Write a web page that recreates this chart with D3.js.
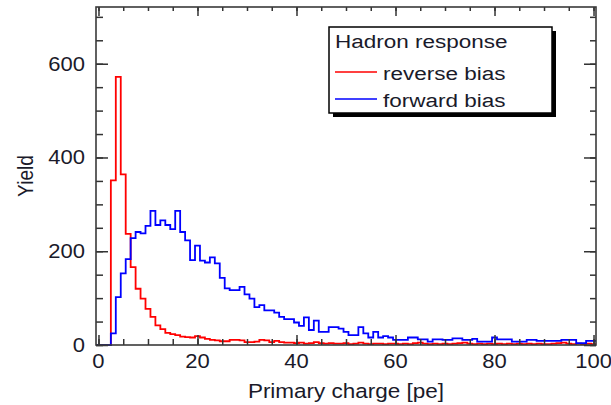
<!DOCTYPE html>
<html>
<head>
<meta charset="utf-8">
<script src="https://cdn.jsdelivr.net/npm/d3@7"></script>
<style>
  html, body { margin: 0; padding: 0; background: #fff; }
  svg { display: block; }
  text { font-family: "Liberation Sans", Arial, Helvetica, sans-serif; fill: #1a1a2a; }
</style>
</head>
<body>
<svg id="chart" width="611" height="405"></svg>
<script>
// Bin centres 0..100 (bin width 1 pe)
const binCenters = d3.range(0, 101);
const reverseBias = [
  0, 0, 0, 351, 572, 364, 237, 166, 120, 99,
  77, 60, 42, 34, 26, 23, 21, 18, 17, 16,
  19, 16, 13, 11, 10, 8, 8, 11, 11, 10,
  6, 6, 7, 11, 10, 6, 9, 6, 5, 5,
  4, 5, 3, 4, 6, 4, 3, 4, 3, 3,
  4, 2, 3, 5, 3, 2, 3, 3, 2, 3,
  3, 2, 3, 2, 4, 5, 3, 2, 3, 2,
  3, 2, 3, 4, 5, 3, 2, 3, 2, 3,
  2, 3, 2, 3, 2, 3, 2, 3, 2, 3,
  2, 2, 3, 4, 5, 3, 2, 3, 2, 3,
  2
];
const forwardBias = [
  0, 0, 0, 25, 102, 153, 183, 228, 241, 238,
  254, 286, 256, 266, 256, 247, 286, 241, 223, 181,
  212, 180, 176, 187, 174, 143, 121, 117, 117, 124,
  108, 99, 81, 85, 74, 74, 69, 60, 55, 55,
  48, 41, 59, 32, 52, 28, 28, 38, 38, 35,
  28, 21, 21, 38, 25, 16, 28, 16, 19, 16,
  11, 11, 11, 16, 16, 12, 12, 7, 12, 12,
  11, 11, 14, 14, 11, 11, 13, 7, 7, 7,
  16, 12, 12, 12, 7, 7, 7, 11, 11, 9,
  9, 9, 9, 9, 11, 11, 11, 4, 4, 9,
  9
];
const xTickLabels = [0, 20, 40, 60, 80, 100];
const yTickLabels = [0, 200, 400, 600];
const legendTitle = "Hadron response";
const seriesNames = ["reverse bias", "forward bias"];
const seriesColors = ["#ff0000", "#0000ff"];
const xTitle = "Primary charge [pe]";
const yTitle = "Yield";

const svg = d3.select("#chart");
const L = 96, R = 596, T = 7, B = 345;

const x = d3.scaleLinear().domain([-0.5, 100.5]).range([L, R]);
const y = d3.scaleLinear().domain([0, 721]).range([B, T]);

// Histograms (step outlines)
const line = d3.line().x(d => x(d[0])).y(d => y(d[1])).curve(d3.curveStepAfter);
function histPoints(vals) {
  const pts = binCenters.map((c, i) => [c - 0.5, vals[i]]);
  pts.push([100.5, vals[vals.length - 1]]);
  return pts;
}
const plot = svg.append("g");
[reverseBias, forwardBias].forEach((vals, k) => {
  plot.append("path")
    .attr("d", line(histPoints(vals)))
    .attr("fill", "none")
    .attr("stroke", seriesColors[k])
    .attr("stroke-width", 1.8)
    .attr("stroke-linejoin", "miter");
});

// Axes ticks (inward)
function drawAxis(axis, tx, ty) {
  const g = svg.append("g").attr("transform", `translate(${tx},${ty})`).call(axis);
  g.select(".domain").remove();
  g.selectAll("line").attr("stroke", "#333").attr("stroke-width", 1.5);
  g.selectAll("text").remove();
}
const xMinor = d3.range(0, 101, 5);
const xMajor = d3.range(0, 101, 20);
const yMinor = d3.range(0, 721, 50);
const yMajor = d3.range(0, 721, 200);
drawAxis(d3.axisBottom(x).tickValues(xMinor).tickSize(-6), 0, B);
drawAxis(d3.axisBottom(x).tickValues(xMajor).tickSize(-10), 0, B);
drawAxis(d3.axisTop(x).tickValues(xMinor).tickSize(-4), 0, T);
drawAxis(d3.axisTop(x).tickValues(xMajor).tickSize(-9), 0, T);
drawAxis(d3.axisLeft(y).tickValues(yMinor).tickSize(-7), L, 0);
drawAxis(d3.axisLeft(y).tickValues(yMajor).tickSize(-12), L, 0);
drawAxis(d3.axisRight(y).tickValues(yMinor).tickSize(-6), R, 0);
drawAxis(d3.axisRight(y).tickValues(yMajor).tickSize(-12), R, 0);

// Frame
svg.append("rect")
  .attr("x", L).attr("y", T).attr("width", R - L).attr("height", B - T)
  .attr("fill", "none").attr("stroke", "#3a3a3a").attr("stroke-width", 1.6);

// Scaled text helper (source image is slightly squashed vertically)
function label(str, px, py, size, sy, anchor, rot) {
  const g = svg.append("g")
    .attr("transform", `translate(${px},${py}) scale(1,${sy})` + (rot ? ` rotate(${rot})` : ""));
  g.append("text").attr("x", 0).attr("y", 0)
    .attr("font-size", size).attr("text-anchor", anchor).text(str);
}

xTickLabels.forEach(v => label(String(v), x(v), 368, 22, 0.88, "middle"));
yTickLabels.forEach(v => label(String(v), 85, y(v) + 7, 22, 0.88, "end"));
label(xTitle, (L + R) / 2, 398, 22.5, 0.92, "middle");
label(yTitle, 33, 176, 22, 0.87, "middle", -90);

// Legend
const lg = { x: 329, y: 27, w: 223, h: 86 };
svg.append("rect").attr("x", lg.x + 4).attr("y", lg.y + 4).attr("width", lg.w).attr("height", lg.h)
  .attr("fill", "#000");
svg.append("rect").attr("x", lg.x).attr("y", lg.y).attr("width", lg.w).attr("height", lg.h)
  .attr("fill", "#fff").attr("stroke", "#000").attr("stroke-width", 1.5);
label(legendTitle, 335, 48, 22.5, 0.8, "start");
const rows = [72, 99];
seriesNames.forEach((n, k) => {
  svg.append("line").attr("x1", 335).attr("x2", 377).attr("y1", rows[k]).attr("y2", rows[k])
    .attr("stroke", seriesColors[k]).attr("stroke-width", 1.3);
  label(n, 383, rows[k] + 7.5, 22.5, 0.8, "start");
});
</script>
</body>
</html>
